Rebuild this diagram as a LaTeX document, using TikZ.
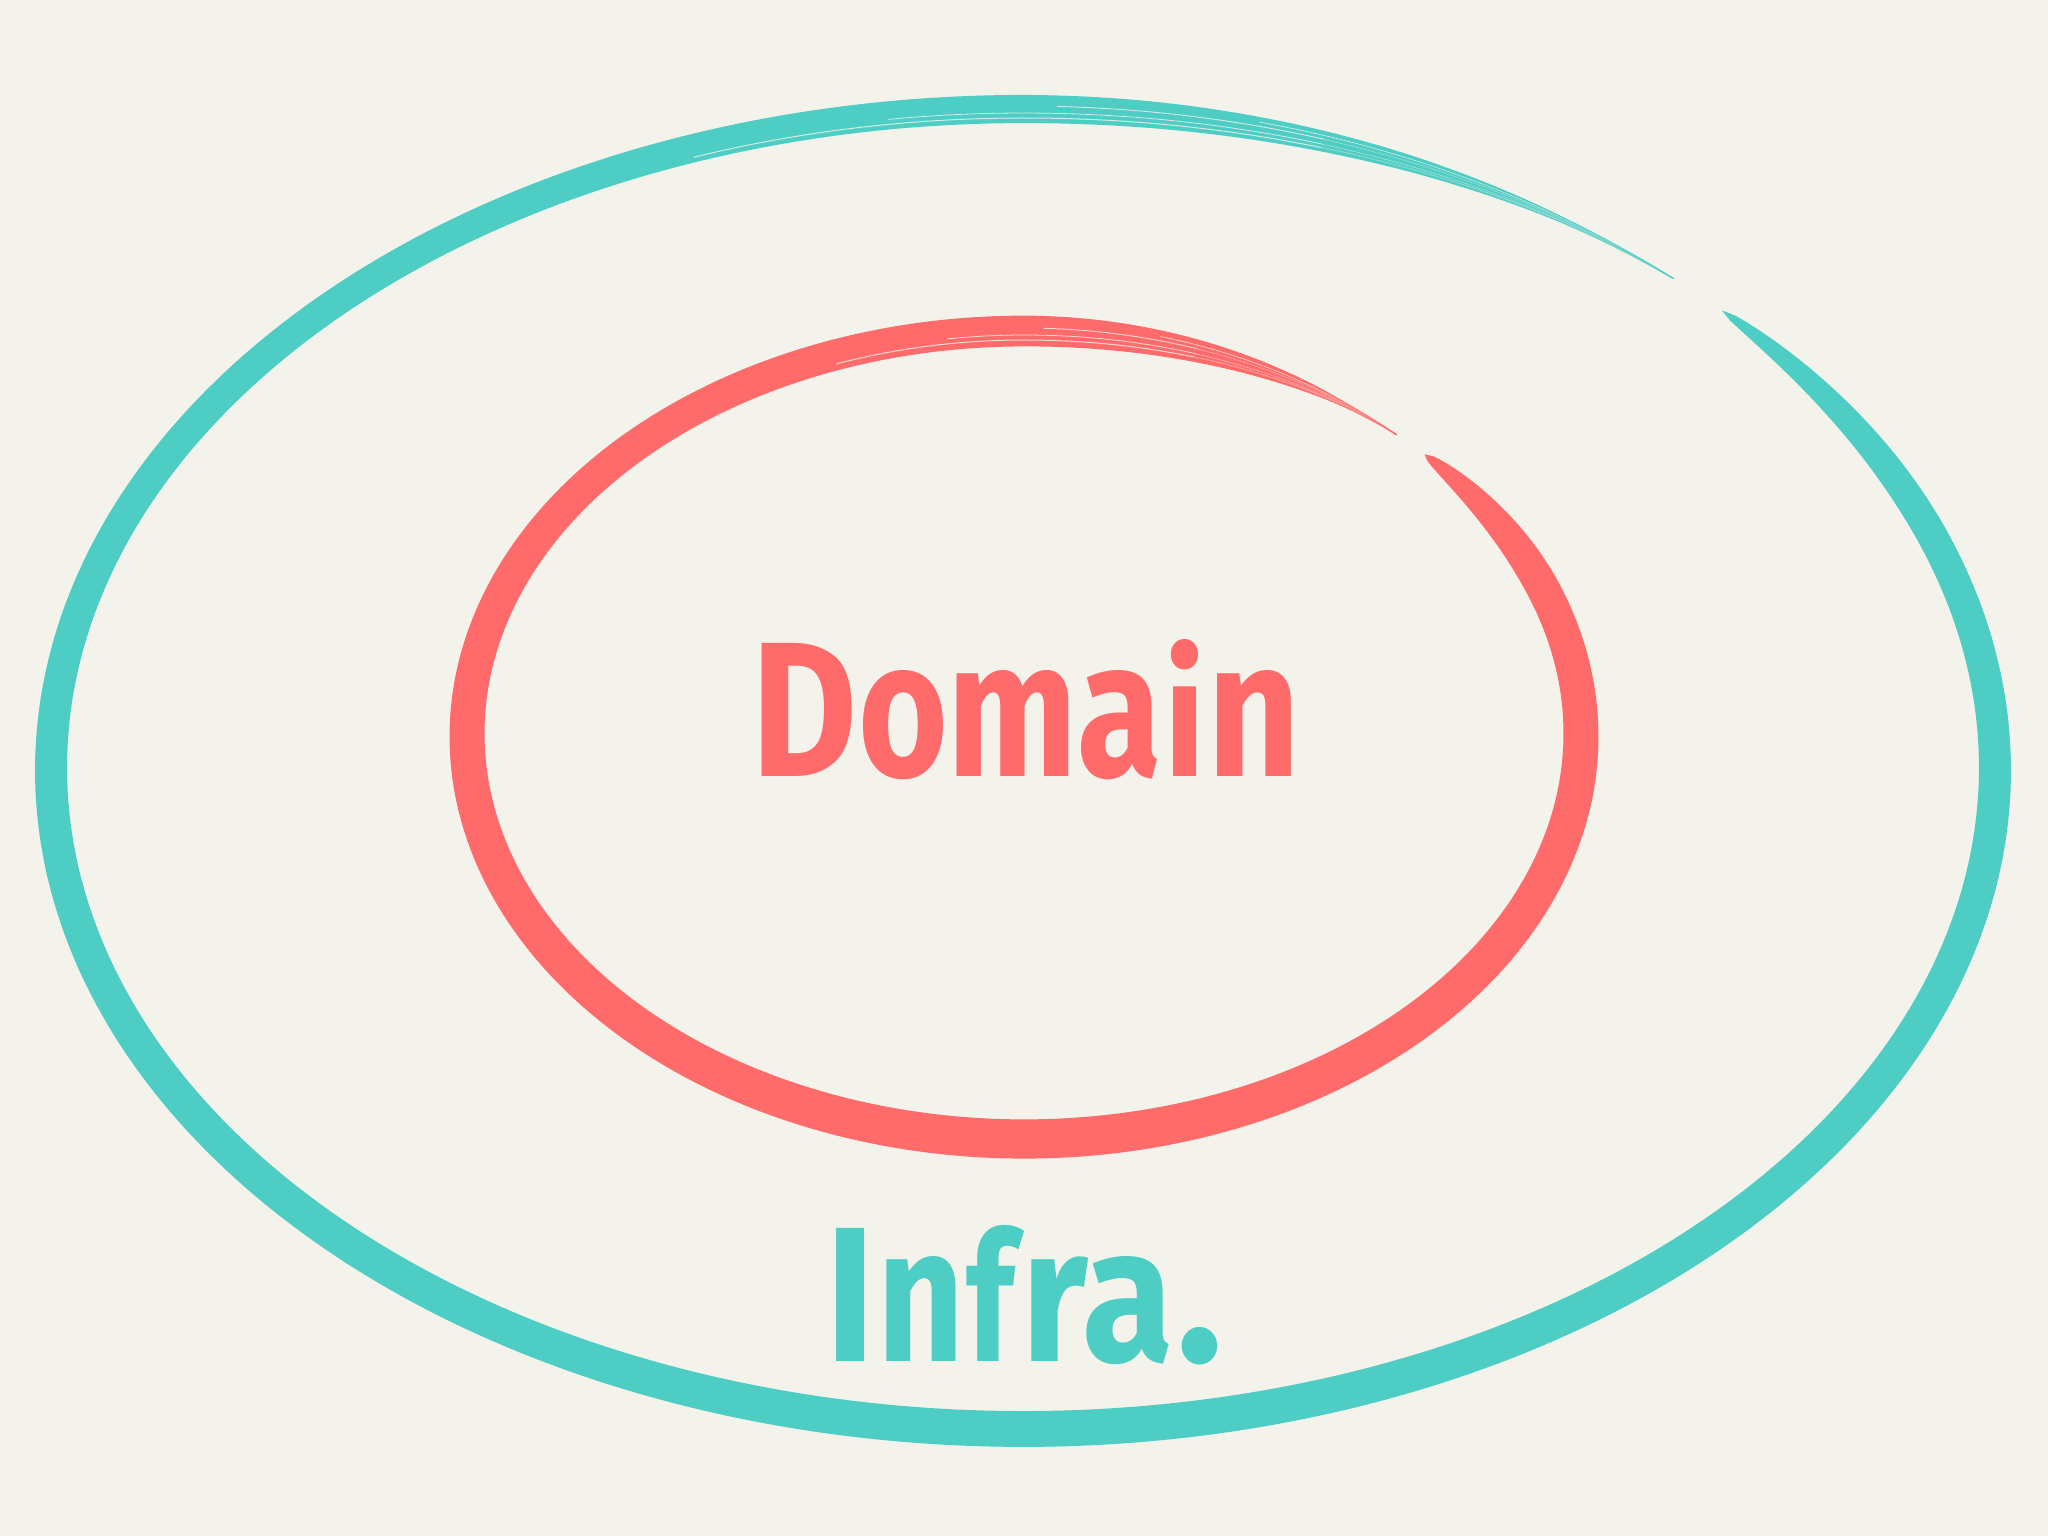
\documentclass[tikz,border=0pt]{standalone}
\usepackage{fontspec}
\usepackage{graphicx}
\setmainfont{Fira Sans}
\definecolor{bgcol}{HTML}{F3F3EC}
\definecolor{tealbrush}{HTML}{4ECDC4}
\definecolor{redbrush}{HTML}{FF6B6B}
% brush ellipse: #1 cx, #2 cy, #3 rx, #4 ry, #5 width, #6 colour
\newcommand\brushring[6]{%
  \fill[#6] plot[domain=-44:309,samples=400] ({#1+(#3+0.5*bw(\x,#5))*cos(\x)},{#2+(#4+0.5*bw(\x,#5))*sin(\x)})
    -- plot[domain=309:-44,samples=400] ({#1+(#3-0.5*bw(\x,#5))*cos(\x)},{#2+(#4-0.5*bw(\x,#5))*sin(\x)}) -- cycle;
  % dry-brush streaks inside the fading end
  \foreach \o/\lw/\s in {-9/1.0/250, -4/0.8/262, 3/0.9/272, 8/0.7/284}{
    \draw[bgcol,line width=\lw pt,opacity=0.8] plot[domain=\s:309,samples=60] ({#1+(#3+\o*tend(\x))*cos(\x)},{#2+(#4+\o*tend(\x))*sin(\x)});
  }%
  % trailing bristles
  \foreach \o/\lw in {-7/1.3, -2.5/1.0, 2.5/1.2, 7/0.8}{
    \draw[#6,line width=\lw pt,opacity=0.7] plot[domain=288:312,samples=40] ({#1+(#3+\o*(312-\x)/24)*cos(\x)},{#2+(#4+\o*(312-\x)/24)*sin(\x)});
  }%
}
\newcommand\glyph[3]{\resizebox{#1pt}{#2pt}{\bfseries #3}}
\begin{document}
\begin{tikzpicture}[x=1pt,y=-1pt,
  declare function={
    tend(\p)=sin(90*max(0,min(1,(309-\p)/40)));
    tbeg(\p)=sqrt(max(0,sin(90*max(0,min(1,(\p+44)/24)))));
    bw(\p,\q)=\q*tbeg(\p)*tend(\p)*(1+0.12*sin(\p));},
  lbl/.style={inner sep=0pt,anchor=base west,outer sep=0pt},
  dom/.style={lbl,text=redbrush},
  inf/.style={lbl,text=tealbrush}]
\fill[bgcol] (0,0) rectangle (2048,1536);
\useasboundingbox (0,0) rectangle (2048,1536);
\brushring{1023}{769}{972}{660}{32}{tealbrush}
\brushring{1024}{735}{557}{404}{35}{redbrush}
% Domain
\node[dom] (dD) at (751,776) {\glyph{106}{133}{D}};
\node[dom] (dOma) at (858,776) {\glyph{304}{106}{oma}};
\node[dom] (dI) at (1164,776) {\glyph{41}{137}{i}};
\node[dom] (dN) at (1207,776) {\glyph{93}{106}{n}};
% Infra.
\node[inf] (iI) at (825,1361) {\glyph{50}{133}{I}};
\node[inf] (iN) at (877,1361) {\glyph{87}{105}{n}};
\node[inf] (iF) at (966,1361) {\glyph{48}{136}{f}};
\node[inf] (iRa) at (1021,1361) {\glyph{152}{105}{ra}};
\node[inf] (iDot) at (1176,1361) {\glyph{47}{34}{.}};
\end{tikzpicture}
\end{document}
